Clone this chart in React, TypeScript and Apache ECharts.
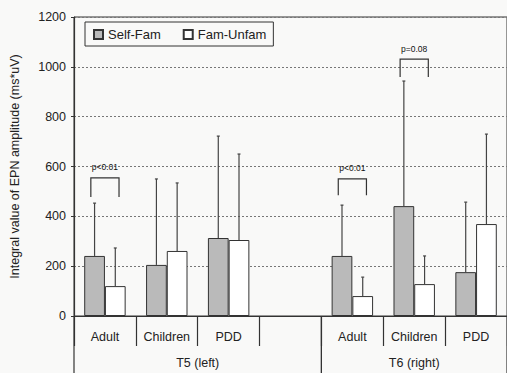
import React, { useEffect, useRef } from "react";
import * as echarts from "echarts";

const categories = ["Adult", "Children", "PDD", "", "Adult", "Children", "PDD"];
const selfFam = [241, 205, 313, null, 241, 441, 176];
const selfFamErr = [453, 550, 722, null, 445, 943, 457];
const famUnfam = [120, 261, 305, null, 80, 128, 369];
const famUnfamErr = [273, 534, 650, null, 156, 241, 730];
const yTicks = { min: 0, max: 1200, interval: 200 };
// brackets: category index, top value, leg bottom value
const bracketCats = [0, 4, 5];
const bracketTop = [554, 550, 1031];
const bracketLeg = [478, 485, 959];
const bracketText = ["p<0.01", "p<0.01", "p=0.08"];
// groups: start category, end category
const groupStart = [0, 4];
const groupEnd = [3, 6];
const groupLabels = ["T5 (left)", "T6 (right)"];

const FONT = "'Liberation Sans', Arial, sans-serif";
const BAR_CAT_GAP = 0.33;

export default function App() {
  const ref = useRef<HTMLDivElement>(null);
  useEffect(() => {
    const chart = echarts.init(ref.current!, null, { renderer: "svg" });

    const errData: any[] = [];
    selfFam.forEach((v, i) => {
      if (v != null) errData.push([i, v, selfFamErr[i], -1]);
    });
    famUnfam.forEach((v, i) => {
      if (v != null) errData.push([i, v, famUnfamErr[i], 1]);
    });

    const option: any = {
      animation: false,
      backgroundColor: "#f9f9f8",
      textStyle: { fontFamily: FONT },
      grid: {
        left: 73,
        top: 17,
        height: 299,
        width: 439,
        show: true,
        borderColor: "#333",
        borderWidth: 1,
        backgroundColor: "transparent",
      },
      legend: {
        left: 85,
        top: 22,
        padding: [6, 7, 5, 8],
        itemWidth: 9,
        itemHeight: 9,
        itemGap: 22,
        icon: "rect",
        borderColor: "#333",
        borderWidth: 1,
        textStyle: { fontSize: 13, color: "#222", fontFamily: FONT },
        data: ["Self-Fam", "Fam-Unfam"],
      },
      xAxis: {
        type: "category",
        data: categories,
        axisLine: { lineStyle: { color: "#333", width: 1.2 } },
        axisTick: { show: true, length: 30, interval: 0, lineStyle: { color: "#333", width: 1.2 } },
        axisLabel: { margin: 14, fontSize: 12.5, color: "#222", interval: 0, fontFamily: FONT },
      },
      yAxis: {
        type: "value",
        min: yTicks.min,
        max: yTicks.max,
        interval: yTicks.interval,
        name: "Integral value of EPN amplitude (ms*uV)",
        nameLocation: "middle",
        nameGap: 53,
        nameTextStyle: { fontSize: 12.5, color: "#222", fontFamily: FONT },
        axisLine: { show: true, lineStyle: { color: "#333", width: 1.2 } },
        axisTick: { show: true, length: 3, lineStyle: { color: "#333" } },
        axisLabel: {
          fontSize: 12.5,
          color: "#222",
          margin: 8,
          fontFamily: FONT,
          formatter: (v: number) => String(v),
        },
        splitLine: { lineStyle: { color: "#777", type: [2, 2], width: 1 } },
      },
      series: [
        {
          name: "Self-Fam",
          type: "bar",
          data: selfFam,
          barGap: "0%",
          barCategoryGap: BAR_CAT_GAP * 100 + "%",
          itemStyle: { color: "#bababa", borderColor: "#333", borderWidth: 1 },
        },
        {
          name: "Fam-Unfam",
          type: "bar",
          data: famUnfam,
          barGap: "0%",
          barCategoryGap: BAR_CAT_GAP * 100 + "%",
          itemStyle: { color: "#ffffff", borderColor: "#333", borderWidth: 1 },
        },
        {
          type: "custom",
          name: "err",
          data: errData,
          encode: { x: 0, y: 2 },
          z: 3,
          renderItem: (params: any, api: any) => {
            const idx = api.value(0);
            const v = api.value(1);
            const hi = api.value(2);
            const side = api.value(3);
            const band = api.size([1, 0])[0];
            const bw = (band * (1 - BAR_CAT_GAP)) / 2;
            const c = api.coord([idx, v]);
            const t = api.coord([idx, hi]);
            const x = c[0] + (side * bw) / 2;
            return {
              type: "group",
              children: [
                { type: "line", shape: { x1: x, y1: c[1], x2: x, y2: t[1] }, style: { stroke: "#444", lineWidth: 1.2 } },
                { type: "line", shape: { x1: x - 1.5, y1: t[1], x2: x + 1.5, y2: t[1] }, style: { stroke: "#444", lineWidth: 1.2 } },
              ],
            };
          },
        },
        {
          type: "custom",
          name: "brackets",
          data: bracketCats.map((c, i) => [c, bracketTop[i], bracketLeg[i]]),
          encode: { x: 0, y: 1 },
          z: 4,
          renderItem: (params: any, api: any) => {
            const idx = api.value(0);
            const band = api.size([1, 0])[0];
            const bw = (band * (1 - BAR_CAT_GAP)) / 2;
            const top = api.coord([idx, api.value(1)]);
            const leg = api.coord([idx, api.value(2)]);
            const x1 = top[0] - bw * 0.68;
            const x2 = top[0] + bw * 0.68;
            return {
              type: "group",
              children: [
                {
                  type: "polyline",
                  shape: { points: [[x1, leg[1]], [x1, top[1]], [x2, top[1]], [x2, leg[1]]] },
                  style: { stroke: "#333", lineWidth: 1.2, fill: null },
                },
                {
                  type: "text",
                  x: top[0],
                  y: top[1] - 6,
                  style: {
                    text: bracketText[params.dataIndex],
                    fontSize: 8.5,
                    fontFamily: FONT,
                    fill: "#111",
                    align: "center",
                    verticalAlign: "bottom",
                  },
                },
              ],
            };
          },
        },
        {
          type: "custom",
          name: "groups",
          data: groupStart.map((s, i) => [s, 0, groupEnd[i]]),
          encode: { x: 0, y: 1 },
          z: 4,
          renderItem: (params: any, api: any) => {
            const band = api.size([1, 0])[0];
            const a = api.coord([api.value(0), 0]);
            const b = api.coord([api.value(2), 0]);
            const left = a[0] - band / 2;
            const right = b[0] + band / 2;
            const y0 = a[1];
            return {
              type: "group",
              children: [
                { type: "line", shape: { x1: left, y1: y0, x2: left, y2: y0 + 60 }, style: { stroke: "#333", lineWidth: 1.2 } },
                { type: "line", shape: { x1: right, y1: y0, x2: right, y2: y0 + 60 }, style: { stroke: "#333", lineWidth: 1.2 } },
                {
                  type: "text",
                  x: (left + right) / 2,
                  y: y0 + 47,
                  style: {
                    text: groupLabels[params.dataIndex],
                    fontSize: 12.5,
                    fontFamily: FONT,
                    fill: "#222",
                    align: "center",
                    verticalAlign: "middle",
                  },
                },
              ],
            };
          },
        },
      ],
    };
    chart.setOption(option);
    return () => chart.dispose();
  }, []);
  return (
    <div
      ref={ref}
      style={{ position: "absolute", left: 0, top: 0, width: 507, height: 373 }}
    />
  );
}
